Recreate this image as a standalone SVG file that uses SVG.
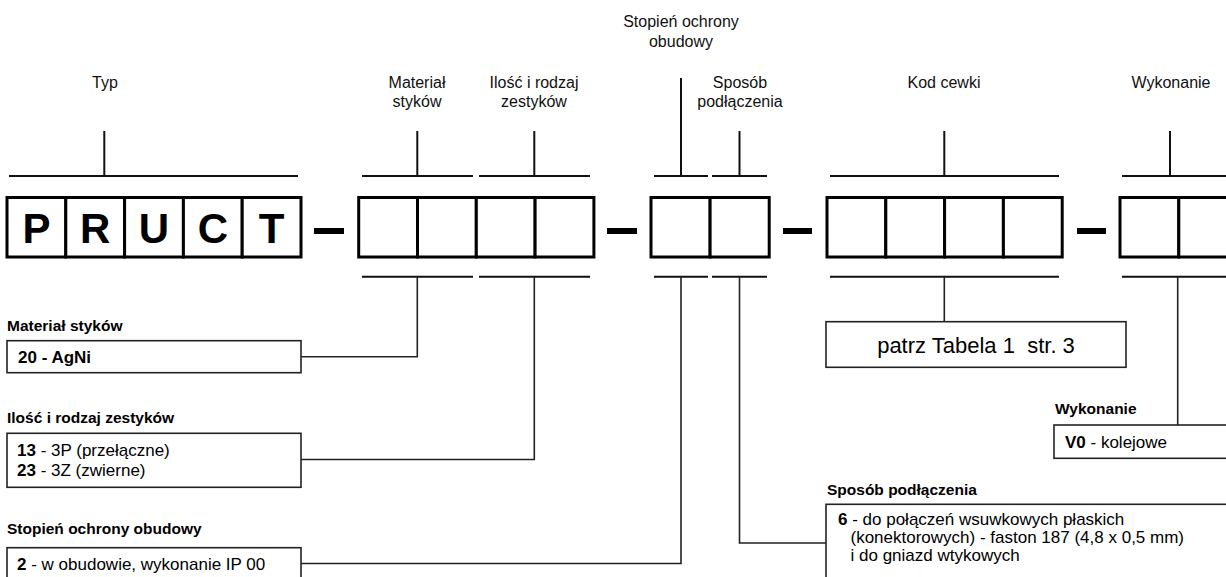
<svg xmlns="http://www.w3.org/2000/svg" width="1226" height="577" viewBox="0 0 1226 577">
  <style>
    text { font-family: "Liberation Sans", Arial, sans-serif; fill: #000; }
    .lbl { font-size: 16px; text-anchor: middle; fill: #111; }
    .hdr { font-size: 15.5px; font-weight: bold; }
    .body { font-size: 17px; }
    .b { font-weight: bold; }
    .big { font-size: 42px; font-weight: bold; text-anchor: middle; }
    .cell { fill: #fff; stroke: #000; stroke-width: 3; }
    .dash { fill: #000; }
    .lead { stroke: #111; stroke-width: 2; fill: none; }
    .conn { stroke: #222; stroke-width: 1.6; fill: none; }
    .desc { fill: #fff; stroke: #222; stroke-width: 1.6; }
  </style>

  <rect width="1226" height="577" fill="#fff"/>

  <!-- leader lines and elbow connectors -->
  <g id="connectors">
    <!-- brackets above the code cells -->
    <path class="lead" d="M9 176H298M104.3 131V176"/>
    <path class="lead" d="M362 176H473M417.3 131V176"/>
    <path class="lead" d="M479 176H590M534.3 131V176"/>
    <path class="lead" d="M654 176H708M681 78V176"/>
    <path class="lead" d="M712 176H767M739.5 131V176"/>
    <path class="lead" d="M830 176H1059M944.3 131V176"/>
    <path class="lead" d="M1122 176H1240M1170 131V176"/>
    <!-- brackets below the code cells -->
    <path class="lead" d="M362 276.7H473M479 276.7H590M654 276.7H708M712 276.7H767M830 276.7H1059M1122 276.7H1240"/>
    <!-- elbows to the description boxes -->
    <path class="conn" d="M417.3 276.7V356.7H301"/>
    <path class="conn" d="M534.3 276.7V459.5H301"/>
    <path class="conn" d="M681 276.7V563.5H301"/>
    <path class="conn" d="M739.5 276.7V543H826"/>
    <path class="conn" d="M944.3 276.7V321.7"/>
    <path class="conn" d="M1177.7 276.7V425"/>
  </g>

  <!-- captions above -->
  <g id="label-typ"><text class="lbl" x="105" y="88">Typ</text></g>
  <g id="label-material"><text class="lbl" x="417" y="88">Materiał</text><text class="lbl" x="417" y="107">styków</text></g>
  <g id="label-ilosc"><text class="lbl" x="534" y="88">Ilość i rodzaj</text><text class="lbl" x="534" y="107">zestyków</text></g>
  <g id="label-stopien"><text class="lbl" x="681" y="27">Stopień ochrony</text><text class="lbl" x="681" y="47">obudowy</text></g>
  <g id="label-sposob"><text class="lbl" x="740" y="88">Sposób</text><text class="lbl" x="740" y="107">podłączenia</text></g>
  <g id="label-kod"><text class="lbl" x="944" y="88">Kod cewki</text></g>
  <g id="label-wykonanie"><text class="lbl" x="1171" y="88">Wykonanie</text></g>

  <!-- code cells -->
  <g id="seg-typ">
    <rect class="cell" x="7" y="197.5" width="58.8" height="59.5"/>
    <rect class="cell" x="65.8" y="197.5" width="58.8" height="59.5"/>
    <rect class="cell" x="124.6" y="197.5" width="58.8" height="59.5"/>
    <rect class="cell" x="183.4" y="197.5" width="58.8" height="59.5"/>
    <rect class="cell" x="242.2" y="197.5" width="58.8" height="59.5"/>
    <text class="big" x="36.4" y="243">P</text>
    <text class="big" x="95.2" y="243">R</text>
    <text class="big" x="154" y="243">U</text>
    <text class="big" x="212.8" y="243">C</text>
    <text class="big" x="271.6" y="243">T</text>
  </g>
  <g id="dashes">
    <rect class="dash" x="314" y="228" width="30" height="6"/>
    <rect class="dash" x="607" y="228" width="30" height="6"/>
    <rect class="dash" x="783" y="228" width="29" height="6"/>
    <rect class="dash" x="1077" y="228" width="29" height="6"/>
  </g>
  <g id="seg-material">
    <rect class="cell" x="358.7" y="197.5" width="58.8" height="59.5"/>
    <rect class="cell" x="417.5" y="197.5" width="58.8" height="59.5"/>
  </g>
  <g id="seg-ilosc">
    <rect class="cell" x="476.3" y="197.5" width="58.8" height="59.5"/>
    <rect class="cell" x="535.1" y="197.5" width="58.8" height="59.5"/>
  </g>
  <g id="seg-stopien-sposob">
    <rect class="cell" x="651" y="197.5" width="59.1" height="59.5"/>
    <rect class="cell" x="710.1" y="197.5" width="59.1" height="59.5"/>
  </g>
  <g id="seg-kod">
    <rect class="cell" x="827" y="197.5" width="58.8" height="59.5"/>
    <rect class="cell" x="885.8" y="197.5" width="58.8" height="59.5"/>
    <rect class="cell" x="944.6" y="197.5" width="58.8" height="59.5"/>
    <rect class="cell" x="1003.4" y="197.5" width="58.8" height="59.5"/>
  </g>
  <g id="seg-wykonanie">
    <rect class="cell" x="1120" y="197.5" width="58.8" height="59.5"/>
    <rect class="cell" x="1178.8" y="197.5" width="58.8" height="59.5"/>
  </g>

  <!-- description boxes -->
  <g id="desc-material">
    <text class="hdr" x="7" y="331">Materiał styków</text>
    <rect class="desc" x="7" y="340.7" width="294" height="32"/>
    <text class="body b" x="18" y="363">20 - AgNi</text>
  </g>
  <g id="desc-ilosc">
    <text class="hdr" x="7" y="423">Ilość i rodzaj zestyków</text>
    <rect class="desc" x="7" y="433.3" width="294" height="54"/>
    <text class="body" x="17" y="456"><tspan class="b">13</tspan> - 3P (przełączne)</text>
    <text class="body" x="17" y="476"><tspan class="b">23</tspan> - 3Z (zwierne)</text>
  </g>
  <g id="desc-stopien">
    <text class="hdr" x="7" y="533.5">Stopień ochrony obudowy</text>
    <rect class="desc" x="7" y="547.7" width="294" height="32"/>
    <text class="body" x="17" y="570"><tspan class="b">2</tspan> - w obudowie, wykonanie IP 00</text>
  </g>
  <g id="desc-kod">
    <rect class="desc" x="826" y="321.7" width="300" height="45.6"/>
    <text x="976" y="352.5" font-size="22" text-anchor="middle" xml:space="preserve">patrz Tabela 1  str. 3</text>
  </g>
  <g id="desc-wykonanie">
    <text class="hdr" x="1055" y="413.5">Wykonanie</text>
    <rect class="desc" x="1054" y="425" width="200" height="33.3"/>
    <text class="body" x="1065" y="447.5"><tspan class="b">V0</tspan> - kolejowe</text>
  </g>
  <g id="desc-sposob">
    <text class="hdr" x="827" y="495">Sposób podłączenia</text>
    <rect class="desc" x="826" y="504.3" width="420" height="100"/>
    <text class="body" x="838" y="524.5"><tspan class="b">6</tspan> - do połączeń wsuwkowych płaskich</text>
    <text class="body" x="850.5" y="542.7">(konektorowych) - faston 187 (4,8 x 0,5 mm)</text>
    <text class="body" x="850.5" y="561">i do gniazd wtykowych</text>
  </g>
</svg>
